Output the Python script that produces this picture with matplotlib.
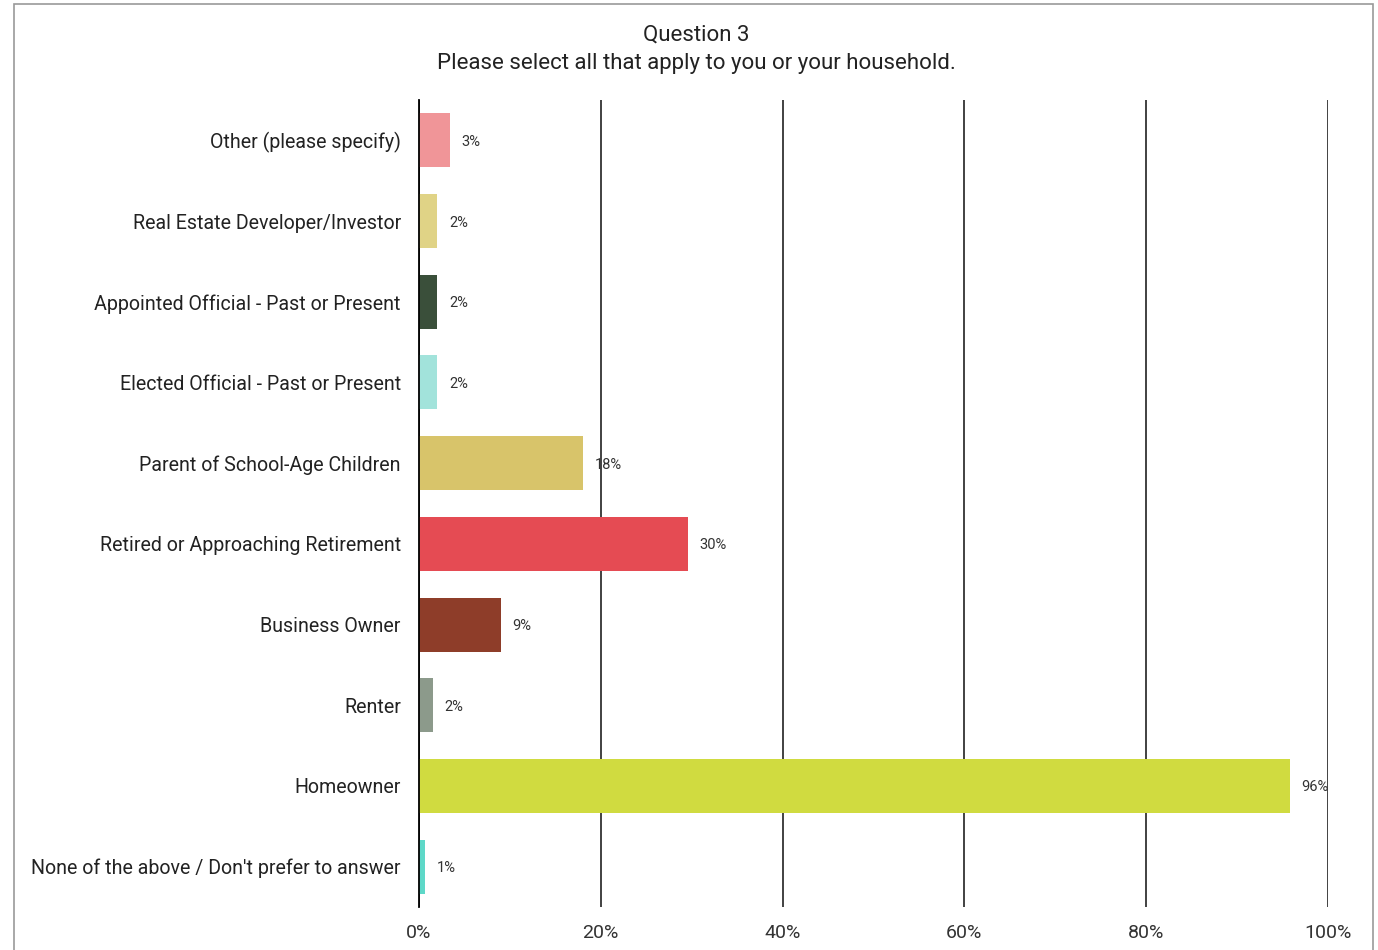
import matplotlib.pyplot as plt
from matplotlib.patches import Rectangle

plt.rcParams['font.family'] = ['Roboto', 'DejaVu Sans']

# Categories listed bottom-to-top
categories = [
    "None of the above / Don't prefer to answer",
    "Homeowner",
    "Renter",
    "Business Owner",
    "Retired or Approaching Retirement",
    "Parent of School-Age Children",
    "Elected Official - Past or Present",
    "Appointed Official - Past or Present",
    "Real Estate Developer/Investor",
    "Other (please specify)",
]
percents = [0.7, 95.8, 1.5, 9.0, 29.6, 18.0, 2.0, 2.0, 2.0, 3.4]
colors = ["#5ED8C8", "#D0DB40", "#8C9A8B", "#8E3D29", "#E54B53",
          "#D8C46A", "#A2E3DB", "#3A4F3A", "#E0D386", "#F09598"]
xticks = [0, 20, 40, 60, 80, 100]

fig = plt.figure(figsize=(13.78, 9.5), dpi=100)
ax = fig.add_axes([0.304, 0.0453, 0.6597, 0.8494])

ypos = range(len(categories))
ax.barh(ypos, percents, height=0.67, color=colors, zorder=3)
for y, v in zip(ypos, percents):
    ax.text(v + 1.3, y, f"{round(v)}%", va="center_baseline", ha="left",
            fontsize=10.5, color="#333333", zorder=2)

ax.set_xlim(0, 100)
ax.set_ylim(-0.5, len(categories) - 0.5)
ax.set_xticks(xticks)
ax.set_xticklabels([f"{t}%" for t in xticks], fontsize=14, color="#333333")
ax.set_yticks(list(ypos))
ax.set_yticklabels(categories, fontsize=14.1, color="#222222")
ax.tick_params(axis="both", length=0)
ax.tick_params(axis="x", pad=12)
ax.tick_params(axis="y", pad=13)
ax.grid(axis="x", color="#333333", linewidth=1.3, zorder=4)
for side in ["top", "right", "bottom"]:
    ax.spines[side].set_visible(False)
ax.spines["left"].set_color("black")
ax.spines["left"].set_linewidth(1.3)
ax.spines["left"].set_zorder(5)

fig.text(0.505, 0.963, "Question 3", ha="center", va="center",
         fontsize=16, color="#222222")
fig.text(0.505, 0.933, "Please select all that apply to you or your household.",
         ha="center", va="center", fontsize=16, color="#222222")

# light frame around the figure
fig.patches.append(Rectangle((0.0102, -0.02), 0.986, 1.0153,
                             transform=fig.transFigure, fill=False,
                             edgecolor="#999999", linewidth=1.2))

fig.savefig("out.png", dpi=100)
